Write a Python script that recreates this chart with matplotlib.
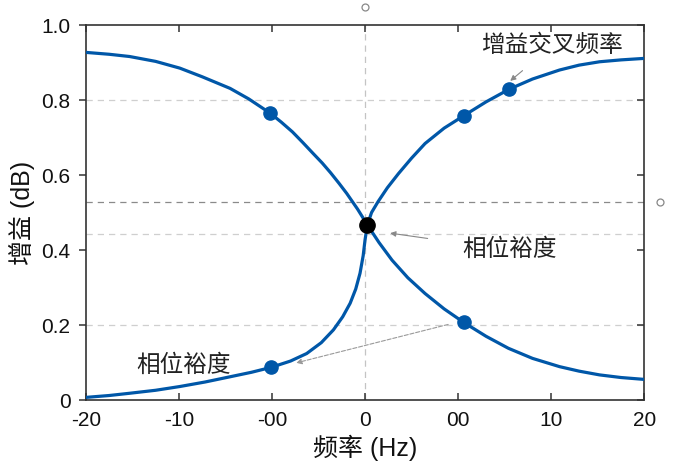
import matplotlib
matplotlib.use("Agg")
import matplotlib.pyplot as plt

plt.rcParams['font.family'] = ['Liberation Sans', 'Noto Sans CJK SC', 'DejaVu Sans']

# ДАННЫЕ
x_ticks = [-3, -2, -1, 0, 1, 2, 3]
x_labels = ["-20", "-10", "-00", "0", "00", "10", "20"]
y_ticks = [0, 0.2, 0.4, 0.6, 0.8, 1.0]
y_labels = ["0", "0.2", "0.4", "0.6", "0.8", "1.0"]

# убывающая кривая
down_x = [-3.0, -2.75, -2.53, -2.25, -1.99, -1.75, -1.45, -1.25, -1.02, -0.9, -0.78,
          -0.67, -0.56, -0.46, -0.37, -0.28, -0.197, -0.08, 0.025,
          0.15, 0.29, 0.46, 0.645, 0.85, 1.06, 1.3, 1.54, 1.8, 2.09, 2.3, 2.52, 2.75, 3.0]
down_y = [0.927, 0.922, 0.916, 0.903, 0.885, 0.862, 0.831, 0.803, 0.765, 0.741, 0.715,
          0.687, 0.658, 0.632, 0.606, 0.578, 0.551, 0.509, 0.467,
          0.42, 0.373, 0.326, 0.284, 0.243, 0.207, 0.17, 0.138, 0.111, 0.089, 0.077,
          0.067, 0.06, 0.055]

# возрастающая кривая
up_x = [-3.0, -2.75, -2.53, -2.25, -1.99, -1.72, -1.45, -1.22, -1.01, -0.80, -0.627,
        -0.47, -0.34, -0.24, -0.16, -0.1, -0.054, -0.02, 0.0, 0.025, 0.07, 0.14, 0.24,
        0.36, 0.5, 0.645, 0.85, 1.06, 1.3, 1.55, 1.8, 2.09, 2.3, 2.52, 2.75, 3.0]
up_y = [0.007, 0.012, 0.018, 0.026, 0.036, 0.048, 0.062, 0.074, 0.087, 0.104, 0.124,
        0.153, 0.187, 0.222, 0.258, 0.296, 0.338, 0.385, 0.427, 0.467, 0.5, 0.529, 0.566,
        0.604, 0.645, 0.684, 0.725, 0.758, 0.795, 0.829, 0.856, 0.88, 0.893, 0.902,
        0.907, 0.911]

# точки на кривых
dots_x = [-1.02, 1.06, -1.01, 1.06, 1.55]
dots_y = [0.765, 0.207, 0.087, 0.758, 0.829]
cross_x, cross_y = 0.025, 0.467

blue = "#0057a8"

fig = plt.figure(figsize=(6.76, 4.72), dpi=100)
ax = fig.add_axes([0.127, 0.1525, 0.826, 0.7945])

# СЕТКА
for yv in [0.8, 0.2, 0.444]:
    ax.axhline(yv, color="#cfcfcf", ls=(0, (5, 4)), lw=0.9, zorder=1)
ax.axhline(0.527, color="#8a8a8a", ls=(0, (5, 4)), lw=0.9, zorder=1)
ax.axvline(0, color="#c4c4c4", ls=(0, (5, 4)), lw=0.9, zorder=1)

# маленькие кружки за пределами осей
ax.plot([0], [1.048], "o", ms=5, mfc="white", mec="#888888", mew=0.9, clip_on=False)
ax.plot([3.17], [0.527], "o", ms=5, mfc="white", mec="#888888", mew=0.9, clip_on=False)

# КРИВЫЕ
ax.plot(down_x, down_y, color=blue, lw=2.3, zorder=3)
ax.plot(up_x, up_y, color=blue, lw=2.3, zorder=3)
ax.plot(dots_x, dots_y, "o", color=blue, ms=9.5, zorder=4)
ax.plot([cross_x], [cross_y], "o", color="black", ms=11, zorder=5)

# ПОДПИСИ
ax.annotate("增益交叉频率", xy=(1.56, 0.851), xytext=(2.01, 0.944),
            fontsize=17, ha="center", va="center", color="#222222",
            arrowprops=dict(arrowstyle="-|>", color="#888888", lw=0.8,
                            mutation_scale=8, shrinkA=12, shrinkB=0))
ax.annotate("相位裕度", xy=(0.27, 0.445), xytext=(1.55, 0.40),
            fontsize=17, ha="center", va="center", color="#222222",
            arrowprops=dict(arrowstyle="-|>", color="#888888", lw=0.8,
                            mutation_scale=8, shrinkA=23, shrinkB=0))
ax.annotate("", xy=(-0.74, 0.099), xytext=(0.98, 0.207),
            arrowprops=dict(arrowstyle="-|>", color="#9a9a9a", lw=0.8, ls="--",
                            mutation_scale=8, shrinkA=6, shrinkB=0))
ax.text(-1.95, 0.093, "相位裕度", fontsize=17, ha="center", va="center", color="#222222")

# ОСИ
ax.set_xlim(-3, 3)
ax.set_ylim(0, 1.0)
ax.set_xticks(x_ticks)
ax.set_xticklabels(x_labels)
ax.set_yticks(y_ticks)
ax.set_yticklabels(y_labels)
ax.tick_params(axis="x", direction="in", top=True, length=5, width=1.1,
               labelsize=15, pad=8, colors="#333333", labelcolor="#111111")
ax.tick_params(axis="y", direction="out", length=5, width=1.1,
               labelsize=15, pad=6, colors="#333333", labelcolor="#111111")
ax.tick_params(axis="y", which="both", right=True)
for t in ax.yaxis.get_ticklines()[1::2]:
    t.set_marker(0)  # правые засечки внутрь
for s in ax.spines.values():
    s.set_color("#333333")
    s.set_linewidth(1.2)

ax.set_xlabel("频率 (Hz)", fontsize=18, labelpad=3, color="#111111")
ax.set_ylabel("增益 (dB)", fontsize=18, labelpad=5, color="#111111")

fig.savefig("out.png", dpi=100)
